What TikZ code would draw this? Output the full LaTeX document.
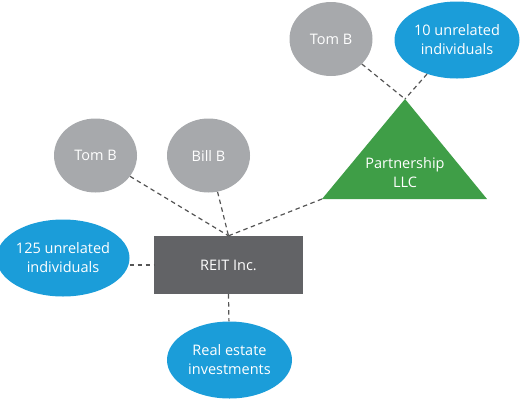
\documentclass[tikz,border=0pt]{standalone}
\usepackage{fontspec}
\setmainfont{Open Sans}
\usetikzlibrary{shapes.geometric}
\definecolor{pgray}{HTML}{A7A9AC}
\definecolor{pblue}{HTML}{1B9DD9}
\definecolor{pgreen}{HTML}{3F9E47}
\definecolor{pdark}{HTML}{626366}
\definecolor{pline}{HTML}{555555}
\tikzset{
  oval/.style={ellipse, inner sep=0pt, text=white, align=center, font=\fontsize{14.5}{19}\selectfont},
  grayoval/.style={oval, fill=pgray, minimum width=83pt, minimum height=74pt},
  blueoval/.style={oval, fill=pblue, minimum width=125pt, minimum height=77pt},
  box/.style={rectangle, fill=pdark, text=white, minimum width=149pt, minimum height=58pt, inner sep=0pt, font=\fontsize{14.5}{19}\selectfont},
  link/.style={draw=pline, line width=1.2pt, dash pattern=on 4.5pt off 3.5pt},
  lbl/.style={text=white, align=center, font=\fontsize{14.5}{19}\selectfont}
}
\begin{document}
\begin{tikzpicture}[x=1pt,y=-1pt]
\useasboundingbox (0,0) rectangle (520,400);
% triangle
\coordinate (apex) at (405,99);
\coordinate (bl) at (322,199);
\coordinate (br) at (487,199);
\fill[pgreen] (apex) -- (br) -- (bl) -- cycle;
\node[lbl] (llc) at (405,173) {Partnership\\LLC};
% nodes
\node[grayoval] (tomtop) at (331,39) {Tom B};
\node[blueoval] (ten) at (457,40) {10 unrelated\\individuals};
\node[grayoval] (tomleft) at (95.5,155.5) {Tom B};
\node[grayoval] (bill) at (208.5,155.5) {Bill B};
\node[box] (reit) at (228.5,265) {REIT Inc.};
\node[blueoval] (hundred) at (63,258) {125 unrelated\\individuals};
\node[blueoval] (realestate) at (229.5,360) {Real estate\\investments};
% connectors
\draw[link] (tomtop) -- (apex);
\draw[link] (ten) -- (apex);
\draw[link] (tomleft) -- (reit.north);
\draw[link] (bill) -- (reit.north);
\draw[link] (bl) -- (reit.north);
\draw[link] (hundred.east |- reit.west) -- (reit.west);
\draw[link] (reit.south) -- (realestate);
\end{tikzpicture}
\end{document}
